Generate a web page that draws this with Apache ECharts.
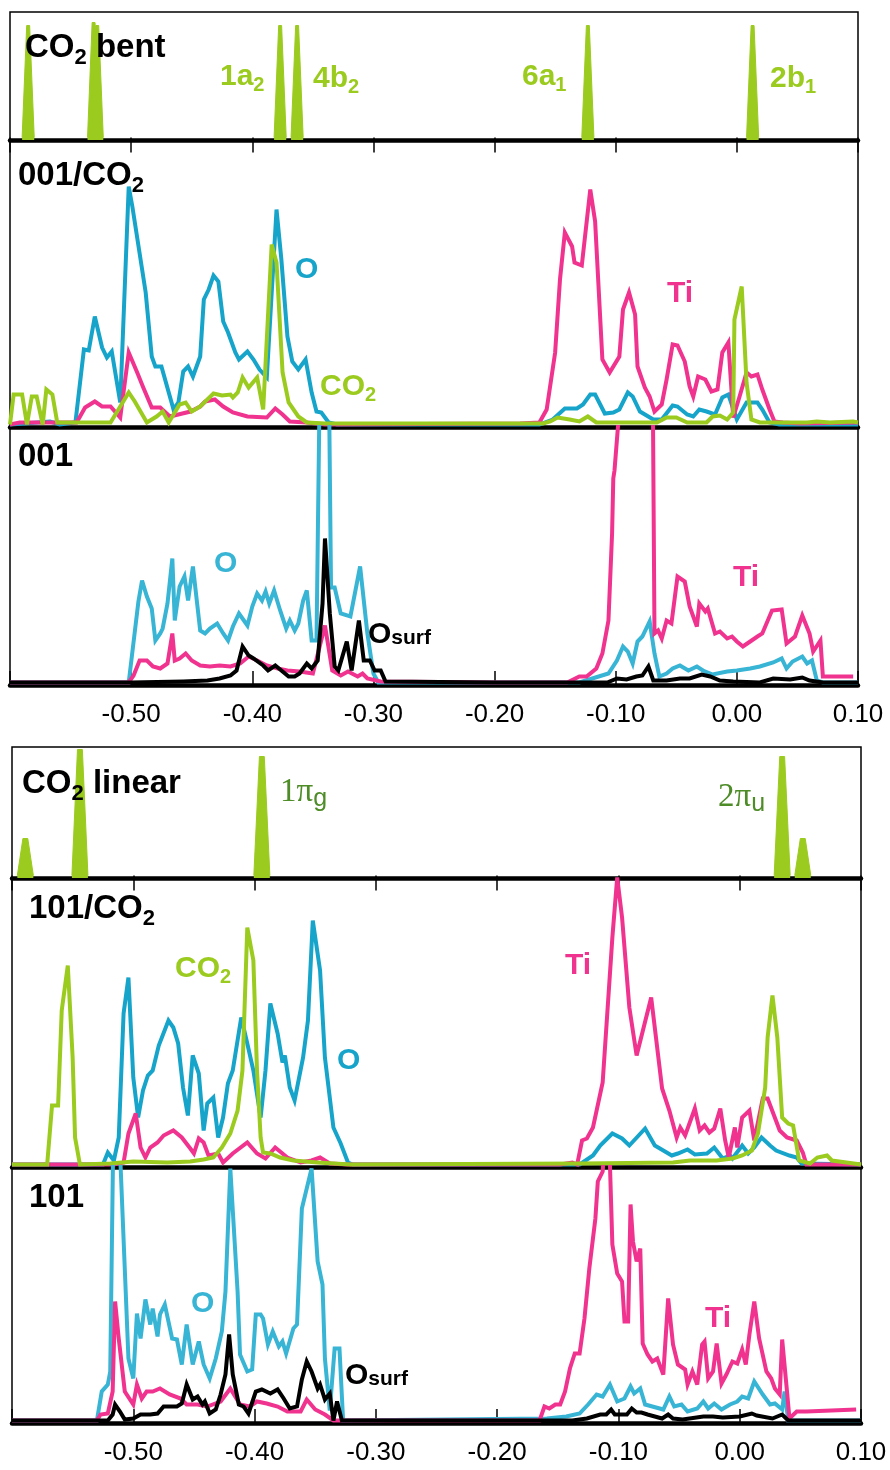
<!DOCTYPE html>
<html>
<head>
<meta charset="utf-8">
<script src="https://cdn.jsdelivr.net/npm/echarts@6.0.0/dist/echarts.min.js"></script>
<style>
  html, body { margin: 0; padding: 0; background: #fff; }
  #chart { width: 890px; height: 1470px; }
</style>
</head>
<body>
<div id="chart"></div>
<script>
// energies in hartree, DOS in arbitrary units

// ---- free CO2, bent geometry (stick levels)
var bentPos = [-0.585, -0.531, -0.528, -0.377, -0.363, -0.123, 0.013];
var bentHeight = [112, 115, 112, 112, 112, 112, 112];

// ---- anatase (001) + CO2
var o001co2 = [
  [-0.600,0],[-0.588,1],[-0.567,3],[-0.559,0],[-0.546,2],[-0.539,75],[-0.535,74],[-0.530,108],[-0.524,77],[-0.520,67],
  [-0.516,73],[-0.509,22],[-0.502,238],[-0.499,218],[-0.488,132],[-0.483,68],[-0.480,58],[-0.475,58],[-0.465,15],[-0.461,22],
  [-0.457,53],[-0.453,58],[-0.449,48],[-0.443,68],[-0.440,125],[-0.436,135],[-0.432,149],[-0.428,143],[-0.424,103],[-0.420,92],
  [-0.414,72],[-0.411,65],[-0.404,73],[-0.399,65],[-0.394,55],[-0.388,47],[-0.380,215],[-0.376,165],[-0.371,88],[-0.367,63],
  [-0.362,55],[-0.356,65],[-0.351,32],[-0.347,13],[-0.343,12],[-0.337,2],[-0.330,0],
  [-0.163,0],[-0.152,5],[-0.142,16],[-0.132,16],[-0.127,20],[-0.121,30],[-0.117,30],[-0.109,11],[-0.102,12],[-0.097,15],
  [-0.090,32],[-0.086,28],[-0.080,13],[-0.069,5],[-0.062,5],[-0.053,19],[-0.049,18],[-0.041,10],[-0.036,8],[-0.031,15],
  [-0.025,13],[-0.018,10],[-0.012,27],[-0.007,30],[0.000,5],[0.008,22],[0.017,22],[0.021,15],[0.027,2],[0.035,0],[0.100,0]
];
var ti001co2 = [
  [-0.600,0],[-0.592,2],[-0.567,2],[-0.545,2],[-0.538,17],[-0.530,23],[-0.524,18],[-0.517,18],[-0.509,7],[-0.502,72],
  [-0.495,52],[-0.490,37],[-0.483,17],[-0.476,17],[-0.468,8],[-0.461,10],[-0.451,13],[-0.443,18],[-0.439,23],[-0.431,25],
  [-0.424,18],[-0.416,12],[-0.404,8],[-0.388,7],[-0.381,16],[-0.375,10],[-0.369,3],[-0.355,2],[-0.340,0],
  [-0.179,1],[-0.163,2],[-0.157,15],[-0.150,72],[-0.146,145],[-0.142,192],[-0.136,178],[-0.134,162],[-0.128,159],[-0.121,235],
  [-0.117,203],[-0.111,65],[-0.105,52],[-0.097,68],[-0.094,115],[-0.089,132],[-0.084,110],[-0.082,58],[-0.076,37],[-0.072,28],
  [-0.068,13],[-0.062,20],[-0.058,45],[-0.053,80],[-0.049,79],[-0.043,63],[-0.039,38],[-0.036,28],[-0.032,48],[-0.026,45],
  [-0.021,33],[-0.016,35],[-0.012,72],[-0.007,82],[-0.003,7],[0.002,27],[0.008,52],[0.012,48],[0.017,50],[0.021,35],
  [0.027,15],[0.031,3],[0.038,2],[0.052,1],[0.100,2]
];
var co2on001 = [
  [-0.600,0],[-0.597,30],[-0.590,30],[-0.586,0],[-0.582,28],[-0.578,28],[-0.573,0],[-0.570,35],[-0.565,30],[-0.561,2],
  [-0.545,2],[-0.528,2],[-0.517,2],[-0.509,18],[-0.502,32],[-0.497,23],[-0.487,2],[-0.479,8],[-0.474,13],[-0.469,2],
  [-0.460,20],[-0.455,22],[-0.450,13],[-0.443,18],[-0.432,31],[-0.425,29],[-0.418,30],[-0.416,27],[-0.412,32],[-0.408,47],
  [-0.403,37],[-0.396,47],[-0.391,15],[-0.384,180],[-0.380,162],[-0.375,52],[-0.370,22],[-0.362,8],[-0.355,2],[-0.340,1],
  [-0.160,1],[-0.154,3],[-0.148,7],[-0.138,5],[-0.130,3],[-0.123,8],[-0.116,2],[-0.091,2],[-0.066,2],[-0.058,7],
  [-0.050,7],[-0.041,2],[-0.025,2],[-0.020,8],[-0.014,9],[-0.008,5],[-0.003,12],[-0.002,105],[0.004,138],[0.008,42],
  [0.012,5],[0.019,2],[0.058,2],[0.066,3],[0.077,2],[0.096,3],[0.100,2]
];

// ---- clean anatase (001)
var o001 = [
  [-0.600,0],[-0.502,0],[-0.494,81],[-0.491,102],[-0.487,86],[-0.483,74],[-0.480,42],[-0.476,49],[-0.474,54],[-0.470,79],
  [-0.466,124],[-0.464,62],[-0.460,96],[-0.456,106],[-0.453,82],[-0.449,116],[-0.443,52],[-0.439,49],[-0.435,54],[-0.429,59],
  [-0.424,49],[-0.420,42],[-0.416,56],[-0.411,69],[-0.404,57],[-0.400,76],[-0.396,89],[-0.392,82],[-0.389,91],[-0.386,79],
  [-0.382,92],[-0.377,72],[-0.372,54],[-0.369,62],[-0.365,52],[-0.362,59],[-0.358,82],[-0.355,92],[-0.351,42],[-0.347,42],
  [-0.344,330],[-0.337,330],[-0.335,95],[-0.332,95],[-0.327,69],[-0.319,66],[-0.311,116],[-0.305,49],[-0.300,9],[-0.296,0],
  [-0.130,0],[-0.106,9],[-0.099,22],[-0.094,36],[-0.090,31],[-0.086,19],[-0.082,41],[-0.078,46],[-0.072,61],[-0.068,29],
  [-0.064,6],[-0.058,9],[-0.053,14],[-0.047,17],[-0.040,12],[-0.033,16],[-0.028,12],[-0.020,8],[-0.008,11],[0.000,12],
  [0.011,14],[0.019,16],[0.030,20],[0.037,24],[0.041,14],[0.046,21],[0.054,26],[0.058,19],[0.062,22],[0.066,2],[0.071,0],[0.100,0]
];
var ti001 = [
  [-0.600,0],[-0.502,0],[-0.498,7],[-0.493,22],[-0.487,22],[-0.482,16],[-0.476,14],[-0.470,19],[-0.466,49],[-0.464,22],
  [-0.460,24],[-0.455,29],[-0.450,22],[-0.443,17],[-0.435,16],[-0.427,17],[-0.418,16],[-0.410,19],[-0.403,26],[-0.396,22],
  [-0.388,17],[-0.379,14],[-0.371,12],[-0.361,11],[-0.350,9],[-0.340,57],[-0.334,12],[-0.327,7],[-0.321,11],[-0.313,6],
  [-0.309,9],[-0.305,4],[-0.294,1],[-0.200,0],
  [-0.140,0],[-0.130,6],[-0.124,6],[-0.116,14],[-0.111,29],[-0.106,62],[-0.103,149],[-0.102,204],[-0.101,212],[-0.098,258],
  [-0.095,400],[-0.070,400],[-0.068,49],[-0.065,52],[-0.062,44],[-0.058,62],[-0.054,59],[-0.049,106],[-0.043,101],[-0.039,76],
  [-0.033,56],[-0.031,79],[-0.026,71],[-0.024,74],[-0.018,49],[-0.014,51],[-0.008,44],[-0.004,46],[0.000,41],[0.005,36],
  [0.011,41],[0.017,46],[0.021,49],[0.029,72],[0.037,73],[0.041,39],[0.048,46],[0.054,67],[0.060,49],[0.063,31],
  [0.069,42],[0.071,6],[0.096,6]
];
var osurf001 = [
  [-0.600,0],[-0.500,0],[-0.457,1],[-0.437,2],[-0.427,4],[-0.418,7],[-0.413,12],[-0.408,36],[-0.403,27],[-0.399,24],
  [-0.391,17],[-0.387,12],[-0.381,17],[-0.375,11],[-0.370,6],[-0.365,6],[-0.361,9],[-0.355,19],[-0.351,14],[-0.346,22],
  [-0.342,79],[-0.340,144],[-0.336,69],[-0.332,16],[-0.329,12],[-0.322,41],[-0.318,12],[-0.312,62],[-0.308,22],[-0.303,22],
  [-0.299,12],[-0.294,12],[-0.290,1],[-0.200,0],
  [-0.107,0],[-0.099,4],[-0.091,3],[-0.083,6],[-0.078,7],[-0.073,16],[-0.069,2],[-0.058,2],[-0.047,4],[-0.039,4],
  [-0.029,8],[-0.022,6],[-0.014,2],[-0.003,1],[0.019,0],[0.030,4],[0.044,3],[0.054,5],[0.060,2],[0.071,0],[0.100,0]
];

// ---- free CO2, linear geometry (stick levels)
var linearPos = [-0.589, -0.544, -0.394, 0.035, 0.052];
var linearHeight = [37, 126, 119, 119, 37];

// ---- anatase (101) + CO2
var o101co2 = [
  [-0.600,0],[-0.525,0],[-0.521,12],[-0.516,4],[-0.512,27],[-0.508,151],[-0.504,187],[-0.500,87],[-0.496,47],[-0.492,74],
  [-0.488,89],[-0.484,94],[-0.479,119],[-0.471,144],[-0.467,137],[-0.463,121],[-0.459,77],[-0.455,49],[-0.451,109],[-0.446,91],
  [-0.442,34],[-0.439,61],[-0.434,67],[-0.430,27],[-0.426,47],[-0.422,81],[-0.418,94],[-0.411,147],[-0.406,121],[-0.401,94],
  [-0.395,47],[-0.391,94],[-0.387,161],[-0.381,131],[-0.377,102],[-0.375,109],[-0.371,77],[-0.367,64],[-0.360,107],[-0.356,144],
  [-0.352,244],[-0.346,194],[-0.342,107],[-0.335,37],[-0.329,21],[-0.323,2],[-0.319,0],
  [-0.132,0],[-0.121,9],[-0.115,19],[-0.105,31],[-0.097,26],[-0.091,19],[-0.078,36],[-0.070,19],[-0.063,14],[-0.056,9],
  [-0.051,11],[-0.043,15],[-0.037,10],[-0.027,11],[-0.021,17],[-0.014,6],[-0.008,9],[-0.006,6],[0.002,19],[0.007,11],
  [0.012,17],[0.018,27],[0.025,19],[0.030,14],[0.041,9],[0.047,7],[0.051,1],[0.100,0]
];
var ti101co2 = [
  [-0.600,0],[-0.516,0],[-0.508,2],[-0.504,31],[-0.498,51],[-0.494,17],[-0.490,7],[-0.486,17],[-0.480,22],[-0.475,29],
  [-0.467,34],[-0.460,27],[-0.453,16],[-0.450,11],[-0.446,26],[-0.442,22],[-0.438,9],[-0.430,11],[-0.426,2],[-0.418,11],
  [-0.406,22],[-0.398,11],[-0.391,6],[-0.383,17],[-0.373,7],[-0.362,2],[-0.353,4],[-0.346,7],[-0.338,1],[-0.324,0],
  [-0.154,0],[-0.148,0],[-0.138,2],[-0.134,0],[-0.130,24],[-0.126,26],[-0.121,37],[-0.113,82],[-0.105,227],[-0.101,287],
  [-0.097,247],[-0.091,157],[-0.085,109],[-0.073,167],[-0.064,76],[-0.058,54],[-0.052,27],[-0.049,37],[-0.045,29],[-0.037,56],
  [-0.033,34],[-0.029,39],[-0.025,32],[-0.021,36],[-0.016,56],[-0.012,24],[-0.009,7],[-0.004,37],[-0.002,17],[0.002,47],
  [0.008,54],[0.012,24],[0.019,66],[0.023,66],[0.033,34],[0.039,27],[0.047,24],[0.052,12],[0.055,0],[0.100,0]
];
var co2on101 = [
  [-0.600,0],[-0.571,0],[-0.567,59],[-0.562,59],[-0.559,154],[-0.554,199],[-0.550,107],[-0.548,27],[-0.544,0],[-0.519,1],
  [-0.500,3],[-0.472,2],[-0.453,3],[-0.442,5],[-0.434,7],[-0.427,17],[-0.420,31],[-0.414,54],[-0.410,94],[-0.406,237],
  [-0.401,204],[-0.398,94],[-0.395,27],[-0.393,12],[-0.387,11],[-0.379,7],[-0.368,4],[-0.348,2],[-0.321,0],
  [-0.129,1],[-0.055,2],[-0.041,4],[-0.019,4],[-0.006,6],[0.002,9],[0.010,14],[0.015,31],[0.021,77],[0.023,127],
  [0.027,169],[0.031,127],[0.035,47],[0.040,41],[0.044,39],[0.049,4],[0.058,1],[0.064,7],[0.072,9],[0.076,4],[0.082,3],[0.100,0]
];

// ---- clean anatase (101)
var o101 = [
  [-0.600,0],[-0.530,0],[-0.526,29],[-0.521,36],[-0.519,49],[-0.516,330],[-0.513,330],[-0.504,62],[-0.500,42],[-0.497,107],
  [-0.494,82],[-0.490,121],[-0.486,96],[-0.484,112],[-0.480,84],[-0.478,106],[-0.474,116],[-0.468,82],[-0.464,81],[-0.460,56],
  [-0.456,96],[-0.451,56],[-0.446,79],[-0.442,56],[-0.437,42],[-0.432,62],[-0.427,89],[-0.424,129],[-0.420,252],[-0.414,129],
  [-0.412,66],[-0.406,49],[-0.402,51],[-0.399,106],[-0.395,106],[-0.393,102],[-0.389,76],[-0.385,89],[-0.380,74],[-0.377,79],
  [-0.374,67],[-0.368,92],[-0.365,96],[-0.361,212],[-0.353,252],[-0.348,159],[-0.344,136],[-0.342,62],[-0.338,10],[-0.334,72],
  [-0.330,72],[-0.327,0],
  [-0.159,2],[-0.143,4],[-0.132,7],[-0.125,16],[-0.118,26],[-0.113,24],[-0.107,36],[-0.101,19],[-0.095,22],[-0.090,34],
  [-0.087,27],[-0.082,32],[-0.078,16],[-0.072,14],[-0.063,11],[-0.058,24],[-0.054,14],[-0.048,16],[-0.043,9],[-0.035,12],
  [-0.030,19],[-0.026,12],[-0.021,17],[-0.015,11],[-0.008,16],[-0.002,19],[0.002,24],[0.007,22],[0.012,39],[0.019,26],
  [0.025,16],[0.029,17],[0.035,11],[0.037,29],[0.040,0],[0.100,0]
];
var ti101 = [
  [-0.600,0],[-0.530,0],[-0.527,6],[-0.521,7],[-0.517,29],[-0.515,119],[-0.512,82],[-0.507,29],[-0.500,16],[-0.497,36],
  [-0.493,22],[-0.489,29],[-0.484,29],[-0.478,32],[-0.470,26],[-0.461,22],[-0.456,16],[-0.447,16],[-0.439,14],[-0.428,19],
  [-0.420,32],[-0.412,16],[-0.404,14],[-0.398,19],[-0.390,17],[-0.381,14],[-0.373,9],[-0.362,9],[-0.357,21],[-0.350,11],
  [-0.342,6],[-0.335,0],
  [-0.165,0],[-0.161,14],[-0.157,12],[-0.152,16],[-0.148,16],[-0.144,29],[-0.140,52],[-0.136,67],[-0.132,67],[-0.128,102],
  [-0.124,152],[-0.119,202],[-0.117,239],[-0.113,249],[-0.110,300],[-0.107,256],[-0.105,176],[-0.101,147],[-0.097,139],[-0.095,99],
  [-0.092,99],[-0.090,216],[-0.088,179],[-0.085,159],[-0.082,172],[-0.080,77],[-0.076,66],[-0.072,59],[-0.068,62],[-0.063,46],
  [-0.059,122],[-0.055,76],[-0.051,56],[-0.045,51],[-0.043,36],[-0.039,49],[-0.035,36],[-0.031,76],[-0.029,79],[-0.026,42],
  [-0.022,49],[-0.019,77],[-0.015,37],[-0.011,46],[-0.006,59],[-0.002,57],[0.002,71],[0.005,56],[0.008,86],[0.012,119],
  [0.016,82],[0.022,49],[0.026,42],[0.029,32],[0.033,26],[0.035,81],[0.039,29],[0.041,2],[0.047,9],[0.055,9],[0.096,11]
];
var osurf101 = [
  [-0.600,0],[-0.521,0],[-0.517,6],[-0.515,16],[-0.511,9],[-0.507,1],[-0.500,2],[-0.494,6],[-0.486,6],[-0.480,7],
  [-0.475,14],[-0.470,14],[-0.464,14],[-0.460,17],[-0.456,36],[-0.451,21],[-0.447,24],[-0.443,16],[-0.441,19],[-0.437,7],
  [-0.432,11],[-0.428,26],[-0.424,46],[-0.421,86],[-0.418,46],[-0.413,16],[-0.409,14],[-0.405,7],[-0.399,29],[-0.394,31],
  [-0.387,27],[-0.381,31],[-0.376,22],[-0.371,12],[-0.365,14],[-0.361,41],[-0.357,59],[-0.353,49],[-0.348,32],[-0.346,36],
  [-0.342,21],[-0.338,27],[-0.335,0],[-0.332,19],[-0.328,0],
  [-0.138,0],[-0.126,2],[-0.115,6],[-0.110,6],[-0.106,11],[-0.103,6],[-0.093,6],[-0.089,12],[-0.085,8],[-0.081,8],
  [-0.076,6],[-0.064,2],[-0.059,6],[-0.055,2],[-0.047,1],[-0.030,4],[-0.022,4],[-0.014,3],[0.000,4],[0.010,7],
  [0.014,5],[0.027,2],[0.035,6],[0.040,0],[0.100,0]
];

var GREEN = '#9BCB1E', PINK = '#F0338E', BLUE = '#16A4CA', BLUE_LIGHT = '#38B4D5', PI_GREEN = '#4E8C28';
var FONT = "'Liberation Sans', Arial, Helvetica, sans-serif";
var SERIF = "'Liberation Serif', 'DejaVu Serif', serif";

// six stacked panels: two figures of three
var panels = [
  { left: 10, top: 12,   width: 848, height: 128, labels: false },
  { left: 10, top: 140,  width: 848, height: 287, labels: false },
  { left: 10, top: 427,  width: 848, height: 258, labels: true },
  { left: 12, top: 747,  width: 849, height: 131, labels: false },
  { left: 12, top: 878,  width: 849, height: 289, labels: false },
  { left: 12, top: 1167, width: 849, height: 256, labels: true }
];

function fmt(v) {
  if (v < -0.55) return '';
  if (Math.abs(v) < 1e-9) return '0.00';
  return v.toFixed(2);
}

var grids = panels.map(function (p) {
  return { left: p.left, top: p.top, width: p.width, height: p.height,
           show: true, borderColor: '#000', borderWidth: 1.5, backgroundColor: 'transparent' };
});

var xAxes = panels.map(function (p, i) {
  return {
    gridIndex: i, type: 'value', min: -0.6, max: 0.1, interval: 0.1, position: 'bottom',
    axisLine: { show: true, onZero: false, lineStyle: { color: '#000', width: 4.5 } },
    axisTick: { show: p.labels, inside: true, length: 14, lineStyle: { color: '#000', width: 1.5 } },
    axisLabel: { show: p.labels, margin: 17, color: '#000', fontSize: 26, fontFamily: FONT, formatter: fmt },
    splitLine: { show: false }
  };
});
// ticks along the top edge of each figure
[0, 3].forEach(function (i) {
  xAxes.push({
    gridIndex: i, type: 'value', min: -0.6, max: 0.1, interval: 0.1, position: 'top',
    axisLine: { show: false },
    axisTick: { show: true, inside: true, length: 15, lineStyle: { color: '#000', width: 1.5 } },
    axisLabel: { show: false },
    splitLine: { show: false }
  });
});

var yAxes = panels.map(function (p, i) {
  return { gridIndex: i, type: 'value', min: -2.5, max: p.height - 2.5, show: false, splitLine: { show: false } };
});

function curve(idx, data, color, clip) {
  return {
    type: 'line', xAxisIndex: idx, yAxisIndex: idx, data: data, symbol: 'none',
    clip: clip !== false, silent: true, animation: false,
    lineStyle: { color: color, width: 4, join: 'miter', miterLimit: 4 }
  };
}

// a stick level drawn as a narrow filled spike
function stick(idx, pos, h, base, tip) {
  return {
    type: 'line', xAxisIndex: idx, yAxisIndex: idx, symbol: 'none', silent: true, animation: false,
    data: [[pos - base, 0], [pos - tip, h], [pos + tip, h], [pos + base, 0]],
    lineStyle: { color: GREEN, width: 1 },
    areaStyle: { color: GREEN, opacity: 1, origin: 'start' }
  };
}

var series = [];
bentPos.forEach(function (p, i) { series.push(stick(0, p, bentHeight[i], 0.005, 0.0012)); });
series.push(curve(1, o001co2, BLUE), curve(1, ti001co2, PINK), curve(1, co2on001, GREEN));
series.push(curve(2, o001, BLUE_LIGHT), curve(2, ti001, PINK), curve(2, osurf001, '#000'));
linearPos.forEach(function (p, i) { series.push(stick(3, p, linearHeight[i], 0.0066, 0.002)); });
series.push(curve(4, o101co2, BLUE), curve(4, ti101co2, PINK, false), curve(4, co2on101, GREEN));
series.push(curve(5, o101, BLUE_LIGHT), curve(5, ti101, PINK), curve(5, osurf101, '#000'));

// text labels with subscripts
function label(x, cy, text, color, size) {
  var sub = Math.round(size * 0.66);
  return {
    left: x, top: cy - size / 2, padding: 0, text: text,
    textStyle: {
      rich: {
        n: { fontFamily: FONT, fontWeight: 'bold', fontSize: size, lineHeight: size, color: color, verticalAlign: 'top' },
        s: { fontFamily: FONT, fontWeight: 'bold', fontSize: sub, lineHeight: sub, color: color, verticalAlign: 'top',
             padding: [Math.round(size * 0.44), 0, 0, 0] },
        u: { fontFamily: FONT, fontWeight: 'bold', fontSize: 21, lineHeight: 21, color: color, verticalAlign: 'top',
             padding: [Math.round(size * 0.27), 0, 0, 0] },
        p: { fontFamily: SERIF, fontWeight: 'normal', fontSize: 33, lineHeight: 33, color: PI_GREEN, verticalAlign: 'top' },
        q: { fontFamily: FONT, fontWeight: 'normal', fontSize: 25, lineHeight: 25, color: PI_GREEN, verticalAlign: 'top',
             padding: [11, 0, 0, 0] }
      }
    }
  };
}

var titles = [
  label(25, 48, '{n|CO}{s|2}{n| bent}', '#000', 33),
  label(220, 77, '{n|1a}{s|2}', GREEN, 30),
  label(313, 79, '{n|4b}{s|2}', GREEN, 30),
  label(522, 77, '{n|6a}{s|1}', GREEN, 30),
  label(770, 79, '{n|2b}{s|1}', GREEN, 30),
  label(18, 176, '{n|001/CO}{s|2}', '#000', 33),
  label(295, 270, '{n|O}', BLUE, 30),
  label(320, 387, '{n|CO}{s|2}', GREEN, 30),
  label(667, 294, '{n|Ti}', PINK, 30),
  label(18, 457, '{n|001}', '#000', 33),
  label(214, 564, '{n|O}', BLUE_LIGHT, 30),
  label(368, 635, '{n|O}{u|surf}', '#000', 30),
  label(733, 578, '{n|Ti}', PINK, 30),

  label(22, 784, '{n|CO}{s|2}{n| linear}', '#000', 33),
  label(280, 792, '{p|1π}{q|g}', PI_GREEN, 33),
  label(718, 797, '{p|2π}{q|u}', PI_GREEN, 33),
  label(29, 909, '{n|101/CO}{s|2}', '#000', 33),
  label(175, 969, '{n|CO}{s|2}', GREEN, 30),
  label(337, 1061, '{n|O}', BLUE, 30),
  label(565, 966, '{n|Ti}', PINK, 30),
  label(29, 1198, '{n|101}', '#000', 33),
  label(191, 1304, '{n|O}', BLUE_LIGHT, 30),
  label(345, 1376, '{n|O}{u|surf}', '#000', 30),
  label(705, 1319, '{n|Ti}', PINK, 30)
];

var chart = echarts.init(document.getElementById('chart'), null, { renderer: 'canvas' });
chart.setOption({
  backgroundColor: '#fff',
  animation: false,
  title: titles,
  grid: grids,
  xAxis: xAxes,
  yAxis: yAxes,
  series: series
});
</script>
</body>
</html>
